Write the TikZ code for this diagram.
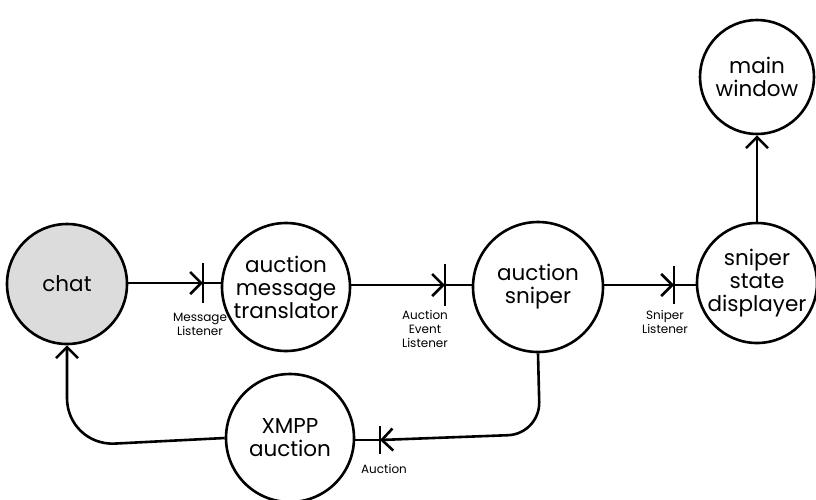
\documentclass[tikz,border=0pt]{standalone}
\usepackage{fontspec}
\setmainfont{Poppins}
\usetikzlibrary{arrows.meta}
\definecolor{chatgray}{HTML}{DCDCDC}
\newcommand{\ifacebar}[4]{%
  \coordinate (#1) at (#2,#3);%
  \draw[line width=2.6pt] ([yshift=-#4]#1)--([yshift=#4]#1);%
}

\begin{document}
\begin{tikzpicture}[x=1pt,y=-1pt,
    blob/.style={circle,draw,line width=2.6pt,minimum size=#1,inner sep=0pt,
      align=center,font=\fontsize{21.5}{23}\selectfont},
    wire/.style={line width=2.6pt},
    tip/.style={-{Straight Barb[length=11pt,width=22pt]}},
    lbl/.style={align=center,font=\fontsize{12}{14}\selectfont}]
  \useasboundingbox (0,0) rectangle (816,499);
  % the objects
  \node[blob=120pt,fill=chatgray] (chat) at (67,284) {chat};
  \node[blob=128pt] (trans) at (286,287) {auction\\message\\translator};
  \node[blob=130pt] (sniper) at (538,287) {auction\\sniper};
  \node[blob=120pt] (disp) at (757,283) {sniper\\state\\displayer};
  \node[blob=114pt] (main) at (757,77) {main\\window};
  \node[blob=128pt] (xmpp) at (290,438) {XMPP\\auction};
  % the interfaces
  \ifacebar{ml}{203}{283}{20pt}
  \ifacebar{ael}{445}{285}{21pt}
  \ifacebar{sl}{674}{285}{19pt}
  \ifacebar{au}{380}{440}{14pt}
  \node[lbl,anchor=north] (mltxt) at (200,310) {Message\\Listener};
  \node[lbl,anchor=north] (aeltxt) at (425,307) {Auction\\Event\\Listener};
  \node[lbl,anchor=north] (sltxt) at (665,307) {Sniper\\Listener};
  \node[lbl] (autxt) at (384,469) {Auction};
  % the connections
  \draw[wire,tip] (chat.east|-ml)--(ml);
  \draw[wire] (ml)--(ml-|trans.west);
  \draw[wire,tip] (trans.east|-ael)--(ael);
  \draw[wire] (ael)--(ael-|sniper.west);
  \draw[wire,tip] (sniper.east|-sl)--(sl);
  \draw[wire] (sl)--(sl-|disp.west);
  \draw[wire,tip] (disp.north)--(main.south);
  \draw[wire,tip,rounded corners=32pt] (sniper.south)--(540,434)--(au);
  \draw[wire] (au)--(xmpp.east|-au);
  \draw[wire,tip,rounded corners=48pt] (xmpp.west)--(67,446)--(chat.south);
\end{tikzpicture}
\end{document}
